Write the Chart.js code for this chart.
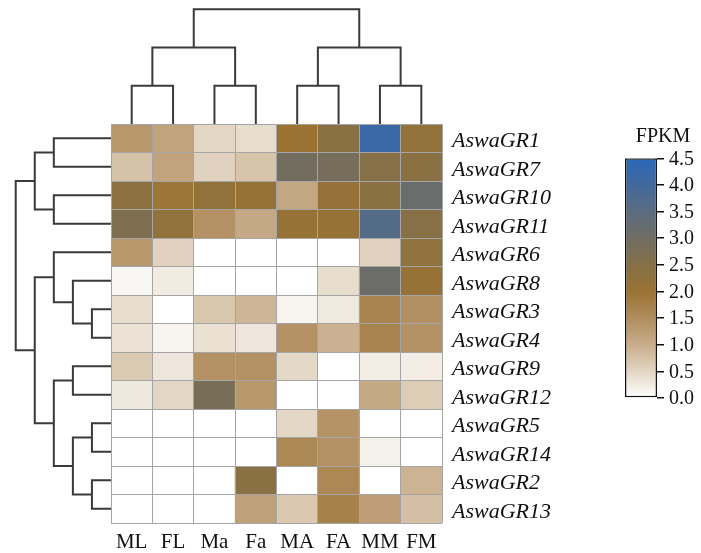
<!DOCTYPE html>
<html lang="en">
<head>
<meta charset="UTF-8">
<title>AswaGR FPKM heatmap</title>
<script src="https://cdn.jsdelivr.net/npm/chart.js"></script>
<style>
    body { margin: 0; background: #ffffff; }
    #wrap { position: relative; width: 701px; height: 553px; overflow: hidden; }
    canvas { position: absolute; }
</style>
</head>
<body>
<div id="wrap">
    <canvas id="topTree" width="331" height="124" style="left:111px; top:0px"></canvas>
    <canvas id="leftTree" width="111" height="399" style="left:0px; top:124px"></canvas>
    <canvas id="heat" width="494" height="459" style="left:106px; top:94px"></canvas>
    <canvas id="scaleBar" width="100" height="312" style="left:601px; top:110px"></canvas>
</div>

<script>
// samples (columns) and genes (rows), in dendrogram order
const samples = ['ML', 'FL', 'Ma', 'Fa', 'MA', 'FA', 'MM', 'FM'];
const genes = ['AswaGR1', 'AswaGR7', 'AswaGR10', 'AswaGR11', 'AswaGR6', 'AswaGR8', 'AswaGR3',
               'AswaGR4', 'AswaGR9', 'AswaGR12', 'AswaGR5', 'AswaGR14', 'AswaGR2', 'AswaGR13'];

// FPKM per gene, one value per sample
const fpkm = [
    [1.35, 1.15, 0.50, 0.42, 2.00, 2.40, 4.15, 2.20],
    [0.75, 1.15, 0.55, 0.72, 2.93, 2.86, 2.50, 2.40],
    [2.30, 1.95, 2.20, 2.10, 1.10, 2.15, 2.38, 3.15],
    [2.65, 2.20, 1.43, 1.06, 2.10, 2.10, 3.62, 2.45],
    [1.35, 0.55, 0, 0, 0, 0, 0.55, 2.25],
    [0.10, 0.25, 0, 0, 0, 0.42, 3.08, 2.10],
    [0.42, 0, 0.70, 0.90, 0.13, 0.27, 1.68, 1.45],
    [0.36, 0.12, 0.37, 0.30, 1.42, 0.95, 1.68, 1.42],
    [0.65, 0.30, 1.43, 1.43, 0.48, 0, 0.23, 0.22],
    [0.28, 0.50, 2.80, 1.35, 0, 0, 1.06, 0.61],
    [0, 0, 0, 0, 0.50, 1.40, 0, 0],
    [0, 0, 0, 0, 1.60, 1.43, 0.17, 0],
    [0, 0, 0, 2.38, 0, 1.60, 0, 0.93],
    [0, 0, 0, 1.20, 0.67, 1.72, 1.23, 0.78]
];

// colour bar tick labels
const fpkmTicks = [0, 0.5, 1.0, 1.5, 2.0, 2.5, 3.0, 3.5, 4.0, 4.5];

// linkage: [child a, child b, merge level]; ids >= leaf count are earlier merges
const sampleLinks = [[0, 1, 1], [2, 3, 1], [8, 9, 2], [4, 5, 1], [6, 7, 1], [11, 12, 2], [10, 13, 3]];
const geneLinks = [
    [0, 1, 3], [2, 3, 3], [14, 15, 4], [6, 7, 1], [5, 17, 2], [4, 18, 3],
    [8, 9, 2], [10, 11, 1], [12, 13, 1], [21, 22, 2], [20, 23, 3], [19, 24, 4], [16, 25, 5]
];

// colour map stops (same positions as the bar ticks)
const mapColors = ['#ffffff', '#e3d6c4', '#c8ad8b', '#b08d5e', '#9a7333',
                   '#857048', '#706d63', '#5a6c80', '#42699e', '#2b67b8'];

Chart.defaults.font.family = "'Liberation Serif', 'Times New Roman', serif";
Chart.defaults.color = '#111111';

function hexRgb(h) {
    return [1, 3, 5].map(i => parseInt(h.substr(i, 2), 16));
}

function fpkmColor(v) {
    const last = fpkmTicks.length - 1;
    if (v <= fpkmTicks[0]) return mapColors[0];
    if (v >= fpkmTicks[last]) return mapColors[last];
    let i = 0;
    while (v > fpkmTicks[i + 1]) i++;
    const t = (v - fpkmTicks[i]) / (fpkmTicks[i + 1] - fpkmTicks[i]);
    const a = hexRgb(mapColors[i]), b = hexRgb(mapColors[i + 1]);
    const c = a.map((x, k) => Math.round(x + (b[k] - x) * t));
    return `rgb(${c[0]},${c[1]},${c[2]})`;
}

// turn a linkage list into U shaped segments (leaf position, level)
function treeSegments(links, nLeaves) {
    const pos = [], lvl = [];
    for (let i = 0; i < nLeaves; i++) { pos.push(i + 0.5); lvl.push(0); }
    return links.map(([a, b, h]) => {
        const seg = [[pos[a], lvl[a]], [pos[a], h], [pos[b], h], [pos[b], lvl[b]]];
        pos.push((pos[a] + pos[b]) / 2);
        lvl.push(h);
        return seg;
    });
}

const plain = {
    responsive: false,
    animation: false,
    events: [],
    plugins: { legend: { display: false }, tooltip: { enabled: false } }
};

function treeChart(id, segs, horizontal, scales, padding) {
    return new Chart(document.getElementById(id), {
        type: 'scatter',
        data: {
            datasets: segs.map(s => ({
                data: s.map(([p, h]) => horizontal ? { x: p, y: h } : { x: h, y: p }),
                showLine: true,
                borderColor: '#3a3a3a',
                borderWidth: 2,
                pointRadius: 0,
                clip: false
            }))
        },
        options: { ...plain, layout: { padding: padding }, scales: scales }
    });
}

// column dendrogram on top
treeChart('topTree', treeSegments(sampleLinks, samples.length), true, {
    x: { type: 'linear', display: false, min: 0, max: samples.length },
    y: { type: 'linear', display: false, min: 0, max: 3 }
}, { top: 9.3 });

// row dendrogram on the left
treeChart('leftTree', treeSegments(geneLinks, genes.length), false, {
    x: { type: 'linear', display: false, min: 0, max: 5, reverse: true },
    y: { type: 'linear', display: false, min: 0, max: genes.length, reverse: true }
}, { left: 15.7 });

// heat map: one floating bar per cell
const rowTicks = [];
for (let v = 0; v <= genes.length; v += 0.5) rowTicks.push(v);

new Chart(document.getElementById('heat'), {
    type: 'bar',
    data: {
        labels: samples,
        datasets: genes.map((g, r) => ({
            label: g,
            data: fpkm[r].map(() => [r, r + 1]),
            backgroundColor: fpkm[r].map(fpkmColor),
            borderWidth: 0,
            barPercentage: 1,
            categoryPercentage: 1,
            grouped: false
        }))
    },
    options: {
        ...plain,
        layout: { padding: { left: 5, top: 30, right: 0, bottom: 0 } },
        scales: {
            x: {
                type: 'category',
                position: 'bottom',
                grid: { offset: true, color: '#a5a5a5', lineWidth: 1, z: 1, drawTicks: false },
                border: { display: false },
                ticks: { font: { size: 21 }, padding: 7, maxRotation: 0, autoSkip: false },
                afterFit: s => { s.height = 30; }
            },
            y: {
                type: 'linear',
                position: 'right',
                min: 0,
                max: genes.length,
                reverse: true,
                afterBuildTicks: s => { s.ticks = rowTicks.map(v => ({ value: v })); },
                grid: {
                    color: c => Number.isInteger(c.tick.value) ? '#a5a5a5' : 'rgba(0,0,0,0)',
                    lineWidth: 1, z: 1, drawTicks: false
                },
                border: { display: false },
                ticks: {
                    autoSkip: false,
                    padding: 10,
                    labelOffset: 3,
                    font: { size: 22, style: 'italic' },
                    callback: v => Number.isInteger(v) ? '' : genes[Math.floor(v)]
                },
                afterFit: s => { s.width = 158; }
            }
        }
    }
});

// colour bar
const fpkmMax = fpkmTicks[fpkmTicks.length - 1];
new Chart(document.getElementById('scaleBar'), {
    type: 'bar',
    data: {
        labels: ['FPKM'],
        datasets: [{
            data: [[0, fpkmMax]],
            backgroundColor: ctx => {
                const area = ctx.chart.chartArea;
                if (!area || !isFinite(area.top) || !isFinite(area.bottom) || area.bottom <= area.top) {
                    return mapColors[0];
                }
                const g = ctx.chart.ctx.createLinearGradient(0, area.bottom, 0, area.top);
                fpkmTicks.forEach((v, i) => g.addColorStop(v / fpkmMax, mapColors[i]));
                return g;
            },
            borderColor: '#111111',
            borderWidth: 1.5,
            borderSkipped: false,
            barPercentage: 1,
            categoryPercentage: 1,
            inflateAmount: 0
        }]
    },
    options: {
        ...plain,
        layout: { padding: { left: 24, top: 0, right: 0, bottom: 24 } },
        plugins: {
            legend: { display: false },
            tooltip: { enabled: false },
            title: {
                display: true,
                text: 'FPKM',
                color: '#111111',
                font: { size: 20, weight: 'normal' },
                padding: { top: 15, bottom: 9.3 }
            }
        },
        scales: {
            x: { display: false },
            y: {
                position: 'right',
                min: 0,
                max: fpkmMax,
                afterBuildTicks: s => { s.ticks = fpkmTicks.map(v => ({ value: v })); },
                grid: { drawOnChartArea: false, drawTicks: true, tickLength: 7, color: '#111111', lineWidth: 1.5 },
                border: { display: false },
                ticks: { autoSkip: false, padding: 5, labelOffset: 1, font: { size: 20 }, callback: v => v.toFixed(1) },
                afterFit: s => { s.width = 44; }
            }
        }
    }
});
</script>
</body>
</html>
